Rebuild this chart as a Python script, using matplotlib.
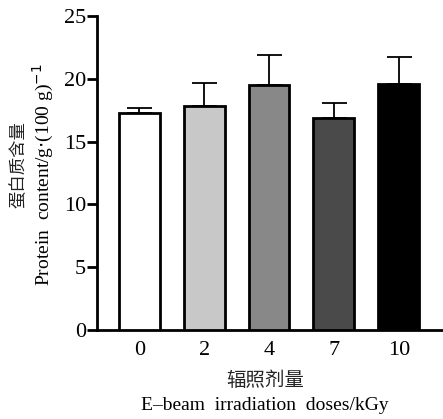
import matplotlib
matplotlib.use("Agg")
import matplotlib.pyplot as plt  # noqa: E402
import numpy as np  # noqa: E402

doses = ["0", "2", "4", "7", "10"]
protein = [17.25, 17.8, 19.5, 16.85, 19.6]
err = [0.45, 1.9, 2.4, 1.25, 2.1]
colors = ["#ffffff", "#c8c8c8", "#888888", "#4a4a4a", "#000000"]

serif = ["Liberation Serif", "DejaVu Serif"]
cjk = ["Noto Sans CJK SC", "DejaVu Sans"]

fig = plt.figure(figsize=(4.43, 4.19), dpi=100)
ax = fig.add_axes([97 / 443, 1 - 330 / 419, 1 - 97 / 443, (330 - 16) / 419])

x = np.arange(len(doses))
ax.bar(x, protein, width=0.63, color=colors, edgecolor="black", linewidth=2.0,
       zorder=3)
ax.errorbar(x, protein, yerr=[np.zeros(len(err)), err], fmt="none",
            ecolor="black", elinewidth=1.3, capsize=9, capthick=1.3, zorder=2)

ax.set_xlim(-0.65, 4.68)
ax.set_ylim(0, 25)
ax.set_yticks([0, 5, 10, 15, 20, 25])
ax.set_xticks(x)
ax.set_xticklabels(doses)
for lab in ax.get_xticklabels() + ax.get_yticklabels():
    lab.set_fontfamily(serif)
    lab.set_fontsize(16)
ax.tick_params(axis="y", direction="out", length=7, width=2, pad=1)
ax.tick_params(axis="x", length=0, pad=8)
for s in ["top", "right"]:
    ax.spines[s].set_visible(False)
for s in ["left", "bottom"]:
    ax.spines[s].set_linewidth(2)

# axis labels, Chinese and English on separate lines
fig.text(18 / 443, 1 - 165 / 419, "蛋白质含量", family=cjk, fontsize=12.5,
         rotation=90, ha="center", va="center", color="#222222")
fig.text(43 / 443, 1 - 175 / 419, "Protein  content/g$\\cdot$(100 g)$^{-1}$",
         family=serif, fontsize=14, rotation=90, ha="center", va="center")
fig.text(265 / 443, 1 - 380 / 419, "辐照剂量", family=cjk, fontsize=14,
         ha="center", va="center", color="#222222")
fig.text(265 / 443, 1 - 405 / 419, "E–beam  irradiation  doses/kGy",
         family=serif, fontsize=14, ha="center", va="center")

fig.savefig("out.png", dpi=100)
plt.close(fig)
